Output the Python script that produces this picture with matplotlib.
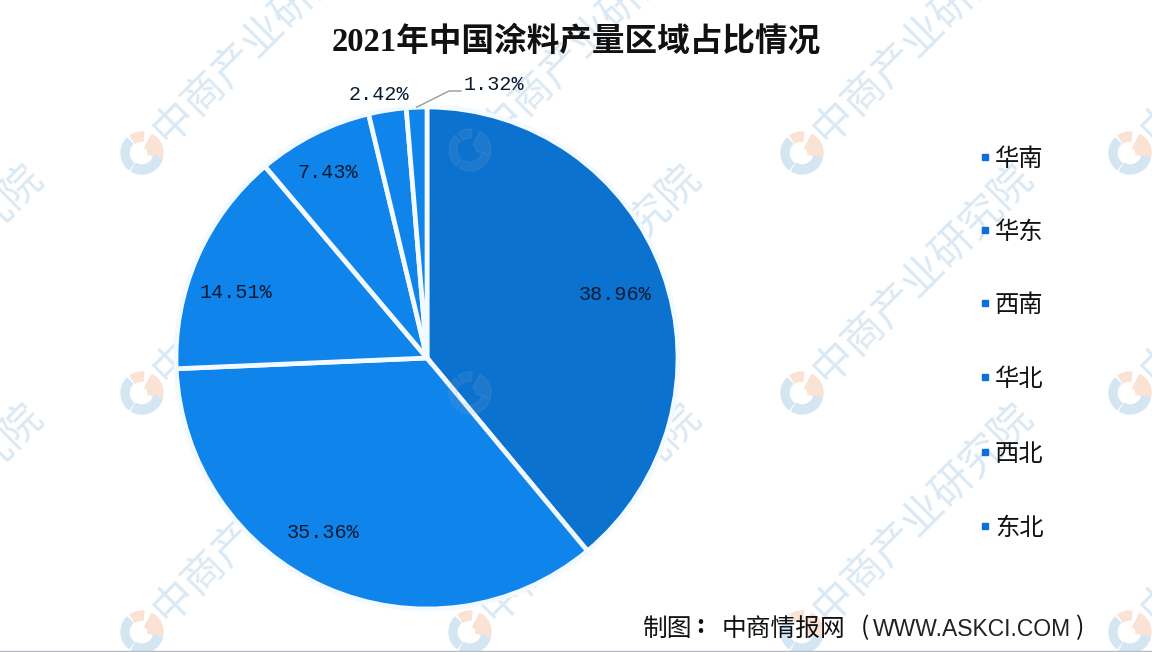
import numpy as np
import matplotlib
matplotlib.use("Agg")
import matplotlib.pyplot as plt
from matplotlib.patches import Wedge, Rectangle

plt.rcParams['font.family'] = ['Noto Sans CJK SC', 'DejaVu Sans']

W, H = 1152, 652

regions = ["华南", "华东", "西南", "华北", "西北", "东北"]
shares = [38.96, 35.36, 14.51, 7.43, 2.42, 1.32]
share_labels = ["38.96%", "35.36%", "14.51%", "7.43%", "2.42%", "1.32%"]
slice_colors = ["#0b72d0", "#0f84ea", "#0f84ea", "#0f84ea", "#0f84ea", "#0f84ea"]

# label centres in reference pixels
label_x = [615, 323, 236, 328, 379, 494]
label_y = [295, 532, 293, 172, 95, 84]
legend_y = [159, 232, 305, 379, 454, 528]
logo_x = [-188, 142, 470, 802, 1130]
logo_y = [153, 393, 632]

fig = plt.figure(figsize=(W / 100, H / 100), dpi=100)
ax = fig.add_axes([0, 0, 1, 1])


# pixel y from the top, axes y goes up
def py(y):
    return H - y


def draw_logo(x, y, blue, orange, z, alpha=1.0):
    c = (x, py(y))
    ax.add_patch(Wedge(c, 21, -12, 62, width=15, color=orange, alpha=alpha, zorder=z))
    ax.add_patch(Wedge(c, 21, 85, 125, width=9, color=orange, alpha=alpha, zorder=z))
    ax.add_patch(Wedge(c, 21, 135, 232, width=8, color=blue, alpha=alpha, zorder=z))
    ax.add_patch(Wedge(c, 21, 240, 345, width=9, color=blue, alpha=alpha, zorder=z))


# watermark behind everything
for ly in logo_y:
    for lx in logo_x:
        draw_logo(lx, ly, "#d5e6f3", "#fae2d4", 1)
        ax.text(lx + 18, py(ly - 16), "中商产业研究院", fontsize=30, color="#dbe9f4", rotation=45,
                rotation_mode="anchor", ha="left", va="center", zorder=1)

# pie
cx, cy, r = 427, py(358), 251
wedges, _ = ax.pie(shares, colors=slice_colors, startangle=90, counterclock=False,
                   center=(cx, cy), radius=r, frame=True,
                   wedgeprops={"edgecolor": "#f2faff", "linewidth": 3.4, "zorder": 2})
ax.set_xlim(0, W)
ax.set_ylim(0, H)
ax.set_aspect("auto")
ax.axis("off")

# faint logos show through the big slice
draw_logo(470, 150, "#8fa6c4", "#8fa6c4", 3, alpha=0.14)
draw_logo(470, 393, "#8fa6c4", "#8fa6c4", 3, alpha=0.14)

label_font = ["Liberation Mono", "Noto Sans CJK SC"]
for lab, lx, ly in zip(share_labels, label_x, label_y):
    ax.text(lx, py(ly), lab, family=label_font, fontsize=14.5, color="#0a1a30",
            ha="center", va="center", zorder=4)

# 1.32% sits outside with a leader line
a = np.deg2rad((wedges[5].theta1 + wedges[5].theta2) / 2)
ex, ey = cx + r * np.cos(a), cy + r * np.sin(a)
ax.plot([ex, 449, 461], [ey, py(91), py(91)], color="#999999", lw=1, zorder=4)

# legend
for name, ly in zip(regions, legend_y):
    ax.add_patch(Rectangle((982, py(ly - 2) - 3), 6, 6, color="#0d6fd8", zorder=4))
    ax.text(995, py(ly), name, fontsize=17.5, color="#111111", ha="left", va="center", zorder=4)

ax.text(576, py(42), "2021年中国涂料产量区域占比情况", family=["Liberation Serif", "Noto Sans CJK SC"],
        fontsize=23.5, fontweight="bold", color="#111111", ha="center", va="center", zorder=4)

# source line, pieces placed by hand to get the full-width gaps
ax.text(643, py(629), "制图", fontsize=17.8, color="#111111", ha="left", va="center", zorder=4)
ax.text(700, py(626), ":", fontsize=17.8, fontweight="bold", color="#111111", ha="center", va="center", zorder=4)
ax.text(722, py(629), "中商情报网", fontsize=17.8, color="#111111", ha="left", va="center", zorder=4)
ax.text(865, py(628), "(", fontsize=17.8, color="#111111", ha="center", va="center", zorder=4)
ax.text(873, py(629), "WWW.ASKCI.COM", family=["Liberation Sans"], fontsize=16.5, color="#222222",
        ha="left", va="center", zorder=4)
ax.text(1080, py(628), ")", fontsize=17.8, color="#111111", ha="center", va="center", zorder=4)

ax.axhline(py(651), color="#b8bcc2", lw=1, zorder=4)

fig.savefig("out.png", dpi=100)
